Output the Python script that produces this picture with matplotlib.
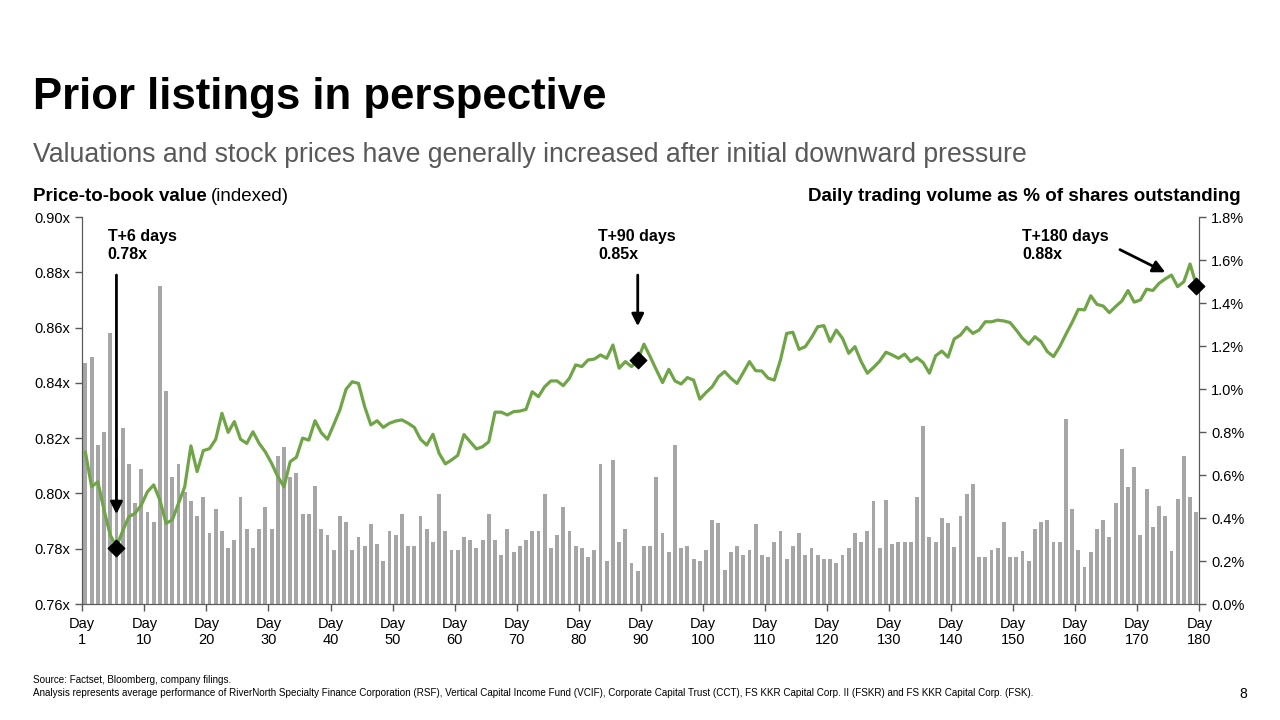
import matplotlib
matplotlib.use("Agg")
import matplotlib.pyplot as plt
import numpy as np

plt.rcParams['font.family'] = ['Liberation Sans', 'DejaVu Sans']

# Daily trading volume as % of shares outstanding (days 1..180)
volume_pct = [
    1.12, 1.15, 0.74, 0.80, 1.26, 0.68, 0.82, 0.65, 0.47, 0.63,
    0.43, 0.38, 1.48, 0.99, 0.59, 0.65, 0.52, 0.48, 0.41, 0.50,
    0.33, 0.44, 0.34, 0.26, 0.30, 0.50, 0.35, 0.26, 0.35, 0.45,
    0.35, 0.69, 0.73, 0.59, 0.61, 0.42, 0.42, 0.55, 0.35, 0.32,
    0.25, 0.41, 0.38, 0.25, 0.31, 0.27, 0.37, 0.28, 0.20, 0.34,
    0.32, 0.42, 0.27, 0.27, 0.41, 0.35, 0.29, 0.51, 0.34, 0.25,
    0.25, 0.31, 0.30, 0.26, 0.30, 0.42, 0.30, 0.23, 0.35, 0.24,
    0.27, 0.30, 0.34, 0.34, 0.51, 0.26, 0.32, 0.45, 0.34, 0.27,
    0.26, 0.22, 0.25, 0.65, 0.20, 0.67, 0.29, 0.35, 0.19, 0.155,
    0.27, 0.27, 0.59, 0.33, 0.24, 0.74, 0.26, 0.27, 0.21, 0.20,
    0.25, 0.39, 0.375, 0.16, 0.24, 0.27, 0.23, 0.25, 0.37, 0.23,
    0.22, 0.29, 0.34, 0.21, 0.27, 0.33, 0.23, 0.26, 0.23, 0.21,
    0.21, 0.19, 0.23, 0.26, 0.33, 0.29, 0.34, 0.48, 0.26, 0.485,
    0.28, 0.29, 0.29, 0.29, 0.50, 0.83, 0.31, 0.29, 0.40, 0.375,
    0.265, 0.41, 0.51, 0.56, 0.22, 0.22, 0.25, 0.26, 0.38, 0.22,
    0.22, 0.245, 0.20, 0.35, 0.38, 0.39, 0.29, 0.29, 0.86, 0.44,
    0.25, 0.17, 0.24, 0.35, 0.39, 0.31, 0.47, 0.72, 0.545, 0.635,
    0.32, 0.535, 0.36, 0.455, 0.41, 0.245, 0.49, 0.69, 0.50, 0.43,
]

# Price-to-book value (indexed), days 1..180
ptb = [
    0.8149, 0.8024, 0.8042, 0.7940, 0.7850, 0.7807, 0.7864, 0.7916, 0.7928, 0.7958,
    0.8006, 0.8031, 0.7976, 0.7892, 0.7904, 0.7964, 0.8024, 0.8172, 0.8079, 0.8155,
    0.8162, 0.8196, 0.8290, 0.8221, 0.8260, 0.8196, 0.8181, 0.8223, 0.8181, 0.8150,
    0.8109, 0.8061, 0.8024, 0.8115, 0.8131, 0.8200, 0.8193, 0.8263, 0.8220, 0.8196,
    0.8248, 0.8302, 0.8377, 0.8404, 0.8398, 0.8314, 0.8248, 0.8263, 0.8239, 0.8254,
    0.8262, 0.8266, 0.8254, 0.8239, 0.8196, 0.8175, 0.8214, 0.8145, 0.8107, 0.8121,
    0.8138, 0.8213, 0.8187, 0.8161, 0.8169, 0.8187, 0.8294, 0.8294, 0.8284, 0.8296,
    0.8298, 0.8304, 0.8368, 0.8350, 0.8386, 0.8407, 0.8407, 0.8390, 0.8417, 0.8465,
    0.8459, 0.8483, 0.8486, 0.8501, 0.8489, 0.8537, 0.8453, 0.8477, 0.8459, 0.8483,
    0.8540, 0.8495, 0.8447, 0.8401, 0.8449, 0.8407, 0.8396, 0.8419, 0.8410, 0.8341,
    0.8365, 0.8386, 0.8422, 0.8441, 0.8417, 0.8398, 0.8437, 0.8477, 0.8444, 0.8443,
    0.8417, 0.8410, 0.8483, 0.8579, 0.8583, 0.8521, 0.8531, 0.8564, 0.8603, 0.8607,
    0.8549, 0.8591, 0.8561, 0.8507, 0.8531, 0.8477, 0.8435, 0.8456, 0.8479, 0.8511,
    0.8501, 0.8489, 0.8504, 0.8477, 0.8491, 0.8473, 0.8435, 0.8498, 0.8515, 0.8493,
    0.8559, 0.8573, 0.8601, 0.8579, 0.8591, 0.8621, 0.8621, 0.8627, 0.8624, 0.8618,
    0.8591, 0.8561, 0.8540, 0.8567, 0.8549, 0.8513, 0.8495, 0.8531, 0.8576, 0.8619,
    0.8666, 0.8664, 0.8715, 0.8684, 0.8678, 0.8654, 0.8676, 0.8696, 0.8734, 0.8692,
    0.8700, 0.8739, 0.8734, 0.8760, 0.8776, 0.8790, 0.8748, 0.8766, 0.8830, 0.8755,
]

days = np.arange(1, len(ptb) + 1)

# Highlighted milestones
mark_days = [6, 90, 180]
mark_vals = [0.7803, 0.8483, 0.8750]
mark_labels = ["T+6 days\n0.78x", "T+90 days\n0.85x", "T+180 days\n0.88x"]

tick_pos = [0.5] + [d + 0.5 for d in range(10, 181, 10)]
tick_labels = ["Day\n1"] + [f"Day\n{d}" for d in range(10, 181, 10)]

GREEN = "#70a547"
GREY = "#a6a6a6"
AXC = "#595959"

fig = plt.figure(figsize=(12.8, 7.2), dpi=100)
ax = fig.add_axes([0.0643, 0.1611, 0.8727, 0.5375])
ax2 = ax.twinx()

# bars on the right axis, behind the line
ax2.bar(days, volume_pct, width=0.62, color=GREY, zorder=1)
ax2.set_ylim(0, 1.8)
ax2.set_yticks(np.arange(0, 1.81, 0.2))
ax2.set_yticklabels([f"{v:.1f}%" for v in np.arange(0, 1.81, 0.2)])

ax.set_zorder(ax2.get_zorder() + 1)
ax.patch.set_visible(False)
ax.plot(days, ptb, color=GREEN, lw=2.3, zorder=3)
ax.scatter(mark_days, mark_vals, marker="D", s=70, color="black", zorder=4, clip_on=False)
ax.set_ylim(0.76, 0.90)
ax.set_yticks(np.arange(0.76, 0.901, 0.02))
ax.set_yticklabels([f"{v:.2f}x" for v in np.arange(0.76, 0.901, 0.02)])
ax.set_xlim(0.5, 180.5)
ax.set_xticks(tick_pos)
ax.set_xticklabels(tick_labels)

for a in (ax, ax2):
    a.spines['top'].set_visible(False)
    for s in ('left', 'right', 'bottom'):
        a.spines[s].set_color(AXC)
    a.tick_params(colors=AXC, labelcolor="black", labelsize=10.5, length=5, width=1)
ax.tick_params(axis='x', pad=4)

# annotations
arrow = dict(arrowstyle="-|>", color="black", lw=2, mutation_scale=18, shrinkA=0, shrinkB=0)
ax.annotate("", xy=(6, 0.7925), xytext=(6, 0.879), arrowprops=arrow)
ax.annotate("", xy=(90, 0.8605), xytext=(90, 0.879), arrowprops=arrow)
ax.annotate("", xy=(175.0, 0.8800), xytext=(167.7, 0.8882), arrowprops=arrow)
for x0, lab in zip([4.6, 83.6, 152.0], mark_labels):
    ax.text(x0, 0.8957, lab, fontsize=11.5, fontweight="bold", va="top", ha="left",
            linespacing=1.25)

# titles and headers
fig.text(0.026, 0.848, "Prior listings in perspective", fontsize=31.5, fontweight="bold",
         va="baseline", ha="left")
fig.text(0.026, 0.775, "Valuations and stock prices have generally increased after initial downward pressure",
         fontsize=19.15, color="#595959", va="baseline", ha="left")
t = fig.text(0.026, 0.721, "Price-to-book value", fontsize=13.5, fontweight="bold",
             va="baseline", ha="left")
fig.canvas.draw()
bb = t.get_window_extent()
fig.text((bb.x1 + 4) / fig.bbox.width, 0.721, "(indexed)", fontsize=13.5, va="baseline", ha="left")
fig.text(0.969, 0.721, "Daily trading volume as % of shares outstanding", fontsize=13.5,
         fontweight="bold", va="baseline", ha="right")

fig.text(0.026, 0.055, "Source: Factset, Bloomberg, company filings.", fontsize=7.1, va="center")
fig.text(0.026, 0.037, "Analysis represents average performance of RiverNorth Specialty Finance Corporation (RSF), "
         "Vertical Capital Income Fund (VCIF), Corporate Capital Trust (CCT), FS KKR Capital Corp. II (FSKR) "
         "and FS KKR Capital Corp. (FSK).", fontsize=7.1, va="center")
fig.text(0.971, 0.036, "8", fontsize=10, va="center", ha="center")

fig.savefig("out.png", dpi=100)
